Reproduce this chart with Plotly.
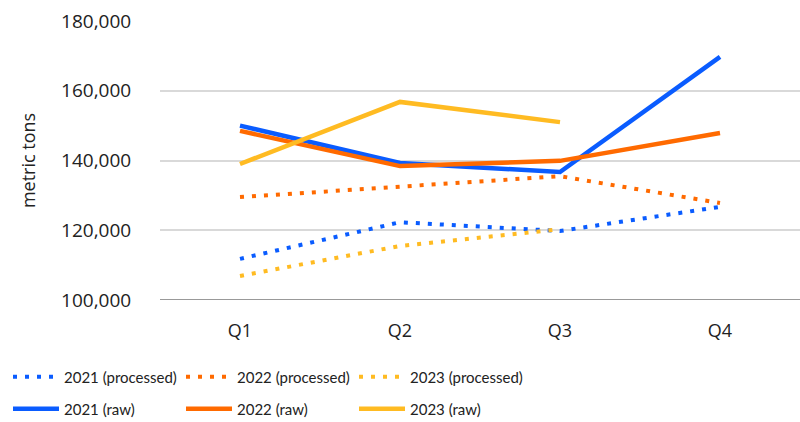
import plotly.graph_objects as go

quarters = ["Q1", "Q2", "Q3", "Q4"]
raw_2021 = [150000, 139300, 136700, 169700]
raw_2022 = [148500, 138400, 139900, 147900]
raw_2023 = [139000, 156800, 151000]
proc_2021 = [111800, 122300, 119800, 126700]
proc_2022 = [129500, 132400, 135500, 127800]
proc_2023 = [106900, 115500, 120300]

BLUE = "#0A5CFF"
ORANGE = "#FF6A00"
YELLOW = "#FFBB22"
FONT = "Open Sans, sans-serif"
LEGEND_FONT = "Lato, sans-serif"

series = [
    ("2021 (processed)", proc_2021, BLUE, "dot"),
    ("2022 (processed)", proc_2022, ORANGE, "dot"),
    ("2023 (processed)", proc_2023, YELLOW, "dot"),
    ("2021 (raw)", raw_2021, BLUE, "solid"),
    ("2022 (raw)", raw_2022, ORANGE, "solid"),
    ("2023 (raw)", raw_2023, YELLOW, "solid"),
]
# legend layout: 3 columns x 2 rows (pixel anchors of each entry in the reference)
col_px = [8, 181, 354]
row_px = [377, 409]

fig = go.Figure()
legends = {}
for i, (name, vals, col, dash) in enumerate(series):
    key = "legend" if i == 0 else f"legend{i + 1}"
    fig.add_trace(go.Scatter(
        x=quarters[:len(vals)], y=vals, name=name, mode="lines", legend=key,
        line=dict(color=col, width=4.5 if dash == "solid" else 4,
                  dash="4px,8px" if dash == "dot" else "solid"),
    ))
    legends[key] = dict(orientation="h", xref="container", yref="container",
                        x=col_px[i % 3] / 800, y=1 - row_px[i // 3] / 422,
                        xanchor="left", yanchor="middle", itemwidth=46,
                        font=dict(size=15, family=LEGEND_FONT), bgcolor="rgba(0,0,0,0)")

fig.update_layout(
    width=800, height=422,
    margin=dict(l=160, r=0, t=21, b=122, autoexpand=False),
    plot_bgcolor="white", paper_bgcolor="white",
    font=dict(family=FONT, size=18, color="#222"),
    xaxis=dict(range=[-0.5, 3.5], showgrid=False, showline=False, automargin=False,
               ticks="outside", ticklen=14, tickcolor="rgba(0,0,0,0)",
               tickfont=dict(size=18)),
    yaxis=dict(range=[100000, 180000], tickvals=[100000, 120000, 140000, 160000, 180000],
               tickformat=",", gridcolor="#d9d9d9", gridwidth=1.5, automargin=False,
               zeroline=False, showline=False, tickfont=dict(size=19),
               ticks="outside", ticklen=24, tickcolor="rgba(0,0,0,0)",
               title=dict(text="metric tons", standoff=20, font=dict(size=18))),
    showlegend=True,
    **legends,
)
fig.add_shape(type="line", xref="paper", yref="y", x0=0, x1=1, y0=100000, y1=100000,
              line=dict(color="#999999", width=2))

fig.write_html("out.html")
